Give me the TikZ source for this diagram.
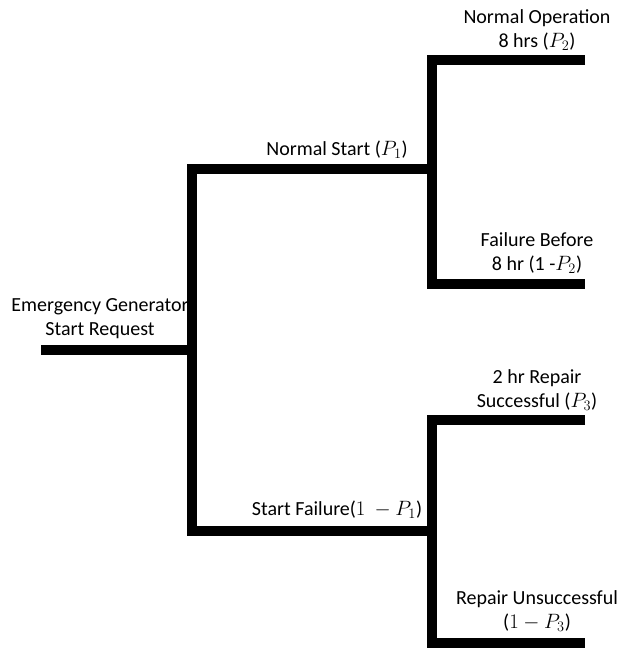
\documentclass[tikz,border=0pt]{standalone}
\usepackage{fontspec}
\setmainfont{Carlito}
\usetikzlibrary{positioning}
\tikzset{
    branch/.style = {draw=black, line width=10pt, line join=miter},
    lbl/.style = {align=center, inner sep=0pt, font=\fontsize{20}{24}\selectfont}
}

\begin{document}
\begin{tikzpicture}[x=1pt,y=-1pt]
  \useasboundingbox (0,0) rectangle (619,650);
  % tree points
  \coordinate (root) at (41,350);
  \coordinate (j1) at (192,350);
  \coordinate (j1u) at (192,169);
  \coordinate (j1d) at (192,531);
  \coordinate (j2) at (432,169);
  \coordinate (j3) at (432,531);
  \coordinate (j2u) at (432,60);
  \coordinate (j2d) at (432,284);
  \coordinate (j3u) at (432,420);
  \coordinate (j3d) at (432,643);
  \coordinate (e1) at (585,60);
  \coordinate (e2) at (585,284);
  \coordinate (e3) at (585,420);
  \coordinate (e4) at (585,643);

  \draw[branch] (root) -- (j1);
  \draw[branch] (j2) -- (j1u) -- (j1d) -- (j3);
  \draw[branch] (e1) -- (j2u) -- (j2d) -- (e2);
  \draw[branch] (e3) -- (j3u) -- (j3d) -- (e4);

  % labels
  \node[lbl] (req) at (100,319) {Emergency Generator\\Start Request};
  \node[lbl] (ns) at (337,150) {Normal Start ($P_1$)};
  \node[lbl] (sf) at (337,510) {Start Failure($1\ -P_1$)};
  \node[lbl] (no) at (537,30) {Normal Operation\\8 hrs ($P_2$)};
  \node[lbl] (fb) at (537,253) {Failure Before\\8 hr (1 -$P_2$)};
  \node[lbl] (rs) at (537,390) {2 hr Repair\\Successful ($P_3$)};
  \node[lbl] (ru) at (537,611) {Repair Unsuccessful\\($1-P_3$)};
\end{tikzpicture}
\end{document}
